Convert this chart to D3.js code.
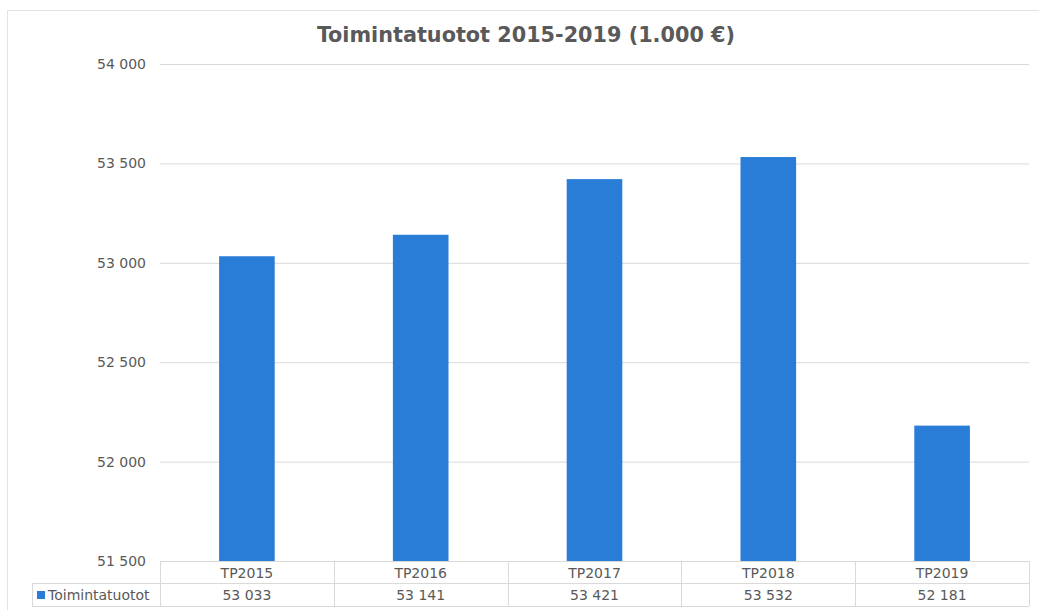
<!DOCTYPE html>
<html><head><meta charset="utf-8">
<script src="https://cdn.jsdelivr.net/npm/d3@7"></script>
<style>body{margin:0;background:#fff}svg{display:block}</style>
</head><body>
<svg id="c" width="1039" height="610"></svg>
<script>
const categories = ["TP2015","TP2016","TP2017","TP2018","TP2019"];
const values = [53033, 53141, 53421, 53532, 52181];
const valueLabels = ["53 033","53 141","53 421","53 532","52 181"];
const yTicks = [51500, 52000, 52500, 53000, 53500, 54000];
const seriesName = "Toimintatuotot";
const title = "Toimintatuotot 2015-2019 (1.000 €)";

(function(){
const svg = d3.select("#c");
const W = 1039, H = 610;
const pL = 160, pR = 1029, pT = 64, pB = 561;
const txt = "#595959", grid = "#d9d9d9", barColor = "#2a7dd6";
const font = "DejaVu Sans, Verdana, sans-serif";

// outer frame
svg.append("rect").attr("x",7.5).attr("y",10.5).attr("width",W+10).attr("height",H+10)
  .attr("fill","none").attr("stroke","#e3e3e3").attr("stroke-width",1);

const x = d3.scaleBand().domain(categories).range([pL,pR]).paddingInner(0.68).paddingOuter(0.34);
const y = d3.scaleLinear().domain([51500,54000]).range([pB,pT]);

const yAxis = d3.axisLeft(y).tickValues(yTicks).tickSize(-(pR-pL)).tickPadding(14)
  .tickFormat(d => d3.format(",")(d).replace(/,/g," "));
const gy = svg.append("g").attr("transform",`translate(${pL},0)`).call(yAxis);
gy.select(".domain").remove();
gy.selectAll(".tick line").attr("stroke",grid);
gy.selectAll(".tick text").attr("fill",txt).attr("font-family",font).attr("font-size",14);

svg.append("g").selectAll("rect").data(values).join("rect")
  .attr("x",(d,i)=>x(categories[i])).attr("width",x.bandwidth())
  .attr("y",d=>y(d)).attr("height",d=>pB-y(d)).attr("fill",barColor);

// data table
const xb = d3.scaleBand().domain(categories).range([pL,pR]);
const r1 = pB, r2 = 583, r3 = 606, legL = 32;
const tg = svg.append("g").attr("stroke",grid).attr("fill","none");
tg.append("line").attr("x1",pL).attr("x2",pR).attr("y1",r1+0.5).attr("y2",r1+0.5);
tg.append("line").attr("x1",legL).attr("x2",pR).attr("y1",r2+0.5).attr("y2",r2+0.5);
tg.append("line").attr("x1",legL).attr("x2",pR).attr("y1",r3+0.5).attr("y2",r3+0.5);
tg.append("line").attr("x1",legL+0.5).attr("x2",legL+0.5).attr("y1",r2).attr("y2",r3);
xb.domain().forEach(c=>{
  const xx = Math.round(xb(c))+0.5;
  tg.append("line").attr("x1",xx).attr("x2",xx).attr("y1",r1).attr("y2",r3);
});
tg.append("line").attr("x1",pR+0.5).attr("x2",pR+0.5).attr("y1",r1).attr("y2",r3);

svg.append("g").selectAll("text").data(categories).join("text")
  .attr("x",d=>xb(d)+xb.bandwidth()/2).attr("y",r1+17).attr("text-anchor","middle")
  .attr("fill",txt).attr("font-family",font).attr("font-size",14).text(d=>d);
svg.append("g").selectAll("text").data(valueLabels).join("text")
  .attr("x",(d,i)=>xb(categories[i])+xb.bandwidth()/2).attr("y",r2+17).attr("text-anchor","middle")
  .attr("fill",txt).attr("font-family",font).attr("font-size",14).text(d=>d);
svg.append("rect").attr("x",37).attr("y",591).attr("width",8).attr("height",8).attr("fill",barColor);
svg.append("text").attr("x",48).attr("y",r2+17).attr("fill",txt).attr("font-family",font)
  .attr("font-size",14).text(seriesName);

svg.append("text").attr("x",526).attr("y",42).attr("text-anchor","middle")
  .attr("fill",txt).attr("font-family","DejaVu Sans Condensed, DejaVu Sans, sans-serif")
  .attr("font-weight","bold").attr("font-size",21)
  .attr("textLength",418).attr("lengthAdjust","spacingAndGlyphs").text(title);
})();
</script>
</body></html>
